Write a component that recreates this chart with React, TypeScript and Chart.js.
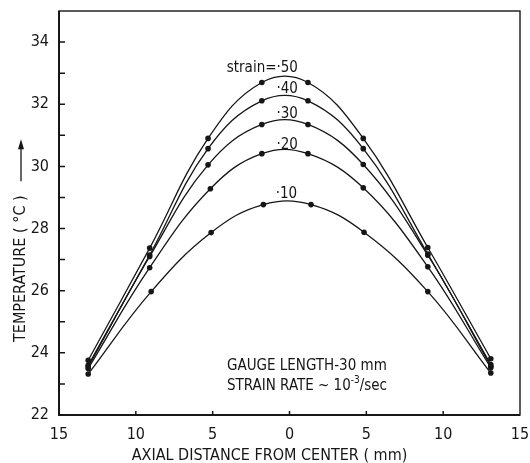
import React, { useEffect, useRef } from "react";
import { Chart, registerables } from "chart.js";

Chart.register(...registerables);

// ---- data ----
const strainLabels = ["strain=·50", "·40", "·30", "·20", "·10"];
const xPositions = [-13.1, -9.1, -5.3, -1.8, 1.2, 4.8, 9.0, 13.1];
const xPositions20 = [-13.1, -9.1, -5.15, -1.8, 1.2, 4.8, 9.0, 13.1];
const xPositions10 = [-13.1, -9.0, -5.1, -1.7, 1.4, 4.85, 9.0, 13.1];
const temp50 = [23.76, 27.37, 30.9, 32.7, 32.7, 30.9, 27.39, 23.81];
const temp40 = [23.6, 27.15, 30.57, 32.11, 32.11, 30.57, 27.18, 23.62];
const temp30 = [23.55, 27.1, 30.05, 31.35, 31.35, 30.06, 27.14, 23.57];
const temp20 = [23.5, 26.74, 29.28, 30.41, 30.41, 29.31, 26.77, 23.52];
const temp10 = [23.32, 25.97, 27.87, 28.77, 28.77, 27.88, 25.97, 23.35];

// curve label anchors (data coords, right-aligned text, vertical centre)
const labelX = [0.55, 0.55, 0.55, 0.55, 0.5];
const labelY = [33.16, 32.48, 31.68, 30.7, 29.1];

// note text
const noteLines = ["GAUGE LENGTH-30 mm", "STRAIN RATE ~ 10", "-3", "/sec"];
const noteX = -4.07;
const noteY = [23.45, 22.8];

// ticks
const xTicks = [-15, -10, -5, 0, 5, 10, 15];
const yTicks = [22, 24, 26, 28, 30, 32, 34];
const yMinorTicks = [23, 25, 27, 29, 31, 33];

const xTitle = "AXIAL DISTANCE FROM CENTER ( mm)";
const yTitle = "TEMPERATURE ( °C )";

const FONT = '"DejaVu Sans Condensed", "Liberation Sans Narrow", "DejaVu Sans", sans-serif';
const INK = "#161616";

function toPoints(xs: number[], ys: number[]) {
  return xs.map((x, i) => ({ x, y: ys[i] }));
}

const decorPlugin = {
  id: "decor",
  afterDraw(chart: any) {
    const { ctx, chartArea: a, scales } = chart;
    const xs = scales.x;
    const ys = scales.y;
    ctx.save();
    ctx.strokeStyle = INK;
    ctx.fillStyle = INK;
    // frame
    ctx.lineWidth = 1.4;
    ctx.strokeRect(a.left, a.top, a.right - a.left, a.bottom - a.top);
    ctx.lineWidth = 2;
    ctx.beginPath();
    ctx.moveTo(a.left, a.top);
    ctx.lineTo(a.left, a.bottom);
    ctx.lineTo(a.right, a.bottom);
    ctx.stroke();
    // inward ticks
    ctx.lineWidth = 1.5;
    ctx.beginPath();
    yTicks.concat(yMinorTicks).forEach((v) => {
      const py = ys.getPixelForValue(v);
      ctx.moveTo(a.left, py);
      ctx.lineTo(a.left + 6, py);
    });
    xTicks.slice(1, -1).forEach((v) => {
      const px = xs.getPixelForValue(v);
      ctx.moveTo(px, a.bottom);
      ctx.lineTo(px, a.bottom - 4);
    });
    ctx.stroke();

    // curve labels
    ctx.font = `15px ${FONT}`;
    ctx.textAlign = "right";
    ctx.textBaseline = "middle";
    strainLabels.forEach((t, i) => {
      ctx.fillText(t, xs.getPixelForValue(labelX[i]), ys.getPixelForValue(labelY[i]));
    });

    // note
    ctx.textAlign = "left";
    ctx.textBaseline = "alphabetic";
    ctx.font = `15px ${FONT}`;
    const nx = xs.getPixelForValue(noteX);
    ctx.fillText(noteLines[0], nx, ys.getPixelForValue(noteY[0]));
    const by = ys.getPixelForValue(noteY[1]);
    ctx.fillText(noteLines[1], nx, by);
    let cx = nx + ctx.measureText(noteLines[1]).width;
    ctx.font = `10px ${FONT}`;
    ctx.fillText(noteLines[2], cx, by - 7);
    cx += ctx.measureText(noteLines[2]).width;
    ctx.font = `15px ${FONT}`;
    ctx.fillText(noteLines[3], cx, by);

    // x title
    ctx.font = `16px ${FONT}`;
    ctx.textAlign = "center";
    ctx.fillText(xTitle, (a.left + a.right) / 2 - 20, a.bottom + 45);

    // y title with arrow
    ctx.save();
    ctx.translate(21, a.bottom - 73);
    ctx.rotate(-Math.PI / 2);
    ctx.textAlign = "left";
    ctx.textBaseline = "middle";
    ctx.font = `16px ${FONT}`;
    ctx.fillText(yTitle, 0, 0);
    const w = ctx.measureText(yTitle).width;
    ctx.lineWidth = 1.3;
    ctx.beginPath();
    ctx.moveTo(w + 14, 0);
    ctx.lineTo(w + 50, 0);
    ctx.stroke();
    ctx.beginPath();
    ctx.moveTo(w + 56, 0);
    ctx.lineTo(w + 46, -3);
    ctx.lineTo(w + 46, 3);
    ctx.closePath();
    ctx.fill();
    ctx.restore();

    ctx.restore();
  },
};

export default function App() {
  const canvasRef = useRef<HTMLCanvasElement | null>(null);

  useEffect(() => {
    document.body.style.margin = "0";
    document.body.style.background = "#ffffff";
    const canvas = canvasRef.current;
    if (!canvas) return;
    const mk = (data: { x: number; y: number }[]) => ({
      data,
      borderColor: INK,
      backgroundColor: INK,
      borderWidth: 1.3,
      pointRadius: 2.8,
      pointHoverRadius: 2.8,
      pointBackgroundColor: INK,
      pointBorderWidth: 0,
      tension: 0.4,
      fill: false,
    });
    const chart = new Chart(canvas, {
      type: "line",
      data: {
        datasets: [
          mk(toPoints(xPositions, temp50)),
          mk(toPoints(xPositions, temp40)),
          mk(toPoints(xPositions, temp30)),
          mk(toPoints(xPositions20, temp20)),
          mk(toPoints(xPositions10, temp10)),
        ],
      },
      options: {
        animation: false,
        responsive: false,
        events: [],
        layout: { padding: { top: 11, right: 10, left: 0, bottom: 0 } },
        plugins: { legend: { display: false }, tooltip: { enabled: false }, title: { display: false } },
        scales: {
          x: {
            type: "linear",
            min: -15,
            max: 15,
            grid: { display: false, drawTicks: false },
            border: { display: false },
            afterBuildTicks: (s: any) => {
              s.ticks = xTicks.map((v) => ({ value: v }));
            },
            afterFit: (s: any) => {
              s.height = 48;
              s.paddingLeft = 0;
              s.paddingRight = 0;
            },
            ticks: {
              color: INK,
              padding: 10,
              maxRotation: 0,
              autoSkip: false,
              font: { family: FONT, size: 16 },
              callback: (v: any) => String(Math.abs(Number(v))),
            },
          },
          y: {
            type: "linear",
            min: 22,
            max: 35,
            grid: { display: false, drawTicks: false },
            border: { display: false },
            afterBuildTicks: (s: any) => {
              s.ticks = yTicks.map((v) => ({ value: v }));
            },
            afterFit: (s: any) => {
              s.width = 59;
              s.paddingTop = 0;
              s.paddingBottom = 0;
            },
            ticks: {
              color: INK,
              padding: 10,
              autoSkip: false,
              font: { family: FONT, size: 16 },
              callback: (v: any) => String(v),
            },
          },
        },
      },
      plugins: [decorPlugin],
    } as any);
    return () => chart.destroy();
  }, []);

  return (
    <div style={{ width: 530, height: 463, background: "#fff" }}>
      <canvas ref={canvasRef} width={530} height={463} style={{ display: "block" }} />
    </div>
  );
}
